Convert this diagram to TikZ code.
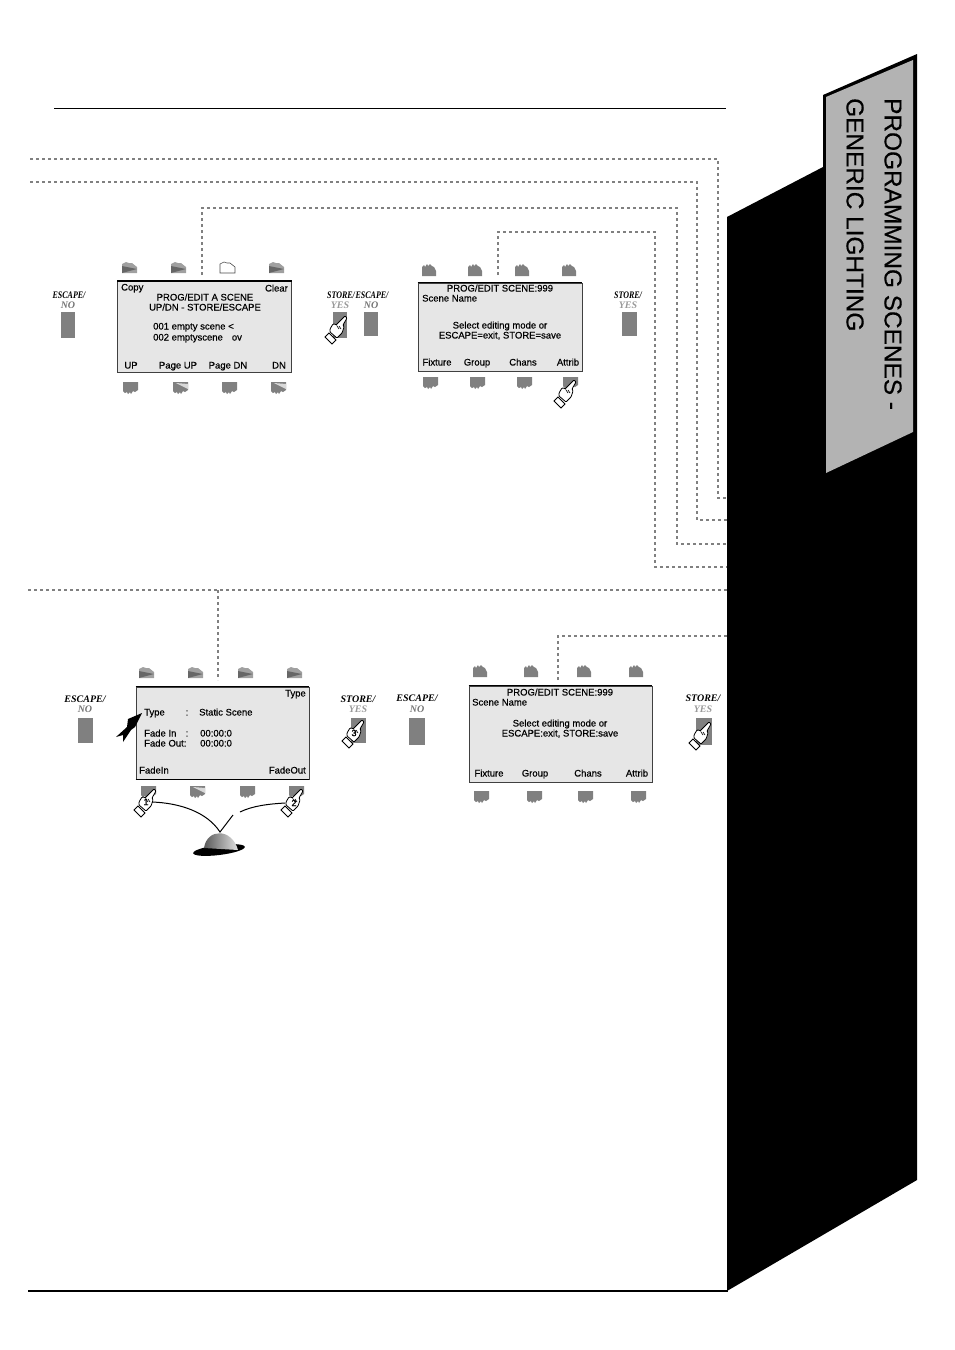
\documentclass[tikz,border=0pt]{standalone}
\usepackage{fontspec}
\setmainfont{Liberation Sans}
\newfontfamily\lcdfont[FakeBold=0.4]{Liberation Sans}
\newfontfamily\keyfont{Liberation Serif}
\newfontfamily\keynarrow[FakeStretch=0.8]{Liberation Serif}
\definecolor{keygray}{HTML}{808080}
\definecolor{lcdgray}{HTML}{E6E6E6}
\definecolor{tabgray}{HTML}{B3B3B3}
\tikzset{
	dots/.style={draw=keygray,line width=2.4pt,dash pattern=on 2.6pt off 3.4pt},
	screen/.style={draw=black!75,fill=lcdgray,line width=.8pt,inner sep=0pt},
	lcd/.style={font=\lcdfont\fontsize{9.5}{10}\selectfont,inner sep=0pt,text height=7pt,text depth=2pt},
	sidekey/.style={fill=keygray,inner sep=0pt,minimum width=14.5pt,minimum height=25.5pt},
	keyname/.style={font=\keyfont\bfseries\itshape\fontsize{10}{10}\selectfont,inner sep=0pt},
	keyslim/.style={font=\keynarrow\bfseries\itshape\fontsize{10}{10}\selectfont,inner sep=0pt},
	noname/.style={keyname,text=black!55},
	yesname/.style={keyname,text=black!40},
	handnum/.style={font=\lcdfont\fontsize{9}{9}\selectfont,inner sep=0pt},
	keyflag/.pic={
		\fill[keygray!75](0,2)--(4,0)--(7,1)--(10,1)--(15,5)--(15,11)--(0,11)--cycle;
		\fill[black!60](0,4)--(15,7)--(0,11)--cycle;
	},
	keyopen/.pic={
		\draw[black!70,fill=white,line width=.6pt](0,2)--(4,0)--(7,1)--(10,1)--(15,5)--(15,11)--(0,11)--cycle;
	},
	keycrown/.pic={
		\fill[keygray](0,3)--(2,1)--(3,3)--(5,0)--(6,2)--(8,0)--(10,2)--(12,3)--(14,7)--(14,12)--(0,12)--cycle;
	},
	keydrip/.pic={
		\fill[keygray](0,0)--(15,0)--(15,8)--(12,10)--(10,9)--(8,12)--(7,10)--(5,12)--(4,10)--(2,11)--(0,9)--cycle;
	},
	keytick/.pic={
		\fill[keygray](0,0)--(15,0)--(15,8)--(12,10)--(10,9)--(8,12)--(7,10)--(5,12)--(4,10)--(2,11)--(0,9)--cycle;
		\fill[white!85!black](3,1)--(15,2)--(15,7)--cycle;
	},
	pointhand/.pic={
		\draw[fill=white,line width=.8pt,rounded corners=.8pt](-1,-1)--(1,1)--(-3,8)--(-2,10)--(-3,13)--(-4,16)
			--(-9,21)--(-16,15)--(-16,12)--(-13,7)--(-11,7)--(-10,8)--(-7,5)--cycle;
		\draw[fill=white,line width=.8pt](-10,23)--(-14,27)--(-21,20)--(-17,16)--cycle;
		\draw[line width=.6pt](-9,9)--(-7,12)(-7,9)--(-5,12);
	},
}
\begin{document}
\begin{tikzpicture}[x=1pt,y=-1pt]
	\useasboundingbox(0,0)rectangle(954,1350);
	% dotted routes
	\coordinate(r1a)at(30,159);\coordinate(r1b)at(718,159);\coordinate(r1c)at(718,498);\coordinate(r1d)at(728,498);
	\coordinate(r2a)at(30,182);\coordinate(r2b)at(697,182);\coordinate(r2c)at(697,520);\coordinate(r2d)at(728,520);
	\coordinate(r3a)at(202,275);\coordinate(r3b)at(202,208);\coordinate(r3c)at(677,208);\coordinate(r3d)at(677,544);\coordinate(r3e)at(728,544);
	\coordinate(r4a)at(498,275);\coordinate(r4b)at(498,232);\coordinate(r4c)at(655,232);\coordinate(r4d)at(655,567);\coordinate(r4e)at(728,567);
	\coordinate(r5a)at(28,590);\coordinate(r5b)at(728,590);\coordinate(r5c)at(218,590);\coordinate(r5d)at(218,680);
	\coordinate(r6a)at(558,680);\coordinate(r6b)at(558,636);\coordinate(r6c)at(728,636);
	\draw[dots](r1a)--(r1b)--(r1c)--(r1d);
	\draw[dots](r2a)--(r2b)--(r2c)--(r2d);
	\draw[dots](r3a)--(r3b)--(r3c)--(r3d)--(r3e);
	\draw[dots](r4a)--(r4b)--(r4c)--(r4d)--(r4e);
	\draw[dots](r5a)--(r5b)(r5c)--(r5d);
	\draw[dots](r6a)--(r6b)--(r6c);
	% rules
	\coordinate(ruletopl)at(54,108);\coordinate(ruletopr)at(726,108);
	\coordinate(rulebotl)at(28,1290.5);\coordinate(rulebotr)at(728,1290.5);
	\draw[line width=1pt](ruletopl)--(ruletopr);
	\draw[line width=2pt](rulebotl)--(rulebotr);
	% page edge and tab
	\fill(727,217)--(823,167)--(823,95)--(917,54)--(917,1180)--(727,1291)--cycle;
	\fill[tabgray](826,97)--(913,60)--(913,432)--(826,473)--cycle;
	\node[rotate=-90,anchor=west,inner sep=0pt,font=\lcdfont\fontsize{24.4}{24}\selectfont](tabone)at(893,98){PROGRAMMING SCENES -};
	\node[rotate=-90,anchor=west,inner sep=0pt,font=\lcdfont\fontsize{24.4}{24}\selectfont](tabtwo)at(855,98){GENERIC LIGHTING};

	% first row, scene list
	\foreach\x in{122,171,269}\pic at(\x,262){keyflag};
	\pic at(220,262){keyopen};
	\foreach\x in{123,222}\pic at(\x,382){keydrip};
	\foreach\x in{173,271}\pic at(\x,382){keytick};
	\node[screen,minimum width=174pt,minimum height=91pt](lista)at(204.5,327){};
	\draw[line width=1.5pt](lista.north west)--(lista.north east);
	\node[lcd,anchor=west](listcopy)at(121,288){Copy};
	\node[lcd,anchor=east](listclear)at(288,289){Clear};
	\node[lcd](listhead)at(205,298){PROG/EDIT A SCENE};
	\node[lcd](listsub)at(205,308){UP/DN - STORE/ESCAPE};
	\node[lcd,anchor=west](listone)at(153,327){001 empty scene <};
	\node[lcd,anchor=west](listtwo)at(153,338){002 emptyscene\hspace{9pt}ov};
	\node[lcd](listup)at(131,366){UP};
	\node[lcd](listpup)at(178,366){Page UP};
	\node[lcd](listpdn)at(228,366){Page DN};
	\node[lcd](listdn)at(279,366){DN};
	\node[sidekey](esca)at(68,325){};
	\node[keyslim](escaname)at(69,295){ESCAPE/};
	\node[noname](escano)at(68,305){NO};
	\node[sidekey](stoa)at(340,325){};
	\node[keyslim](stoaname)at(341,295){STORE/};
	\node[yesname](stoayes)at(340,305){YES};
	\pic at(346,317){pointhand};

	% first row, edit mode
	\foreach\x in{422,468,515,562}\pic at(\x,264){keycrown};
	\foreach\x in{423,470,517,563}\pic at(\x,377){keydrip};
	\node[screen,minimum width=164pt,minimum height=88pt](edita)at(500,327){};
	\draw[line width=1.5pt](edita.north west)--(edita.north east);
	\node[lcd](edithead)at(500,289){PROG/EDIT SCENE:999};
	\node[lcd,anchor=west](editname)at(422,299){Scene Name};
	\node[lcd](editsel)at(500,326){Select editing mode or};
	\node[lcd](editesc)at(500,336){ESCAPE=exit, STORE=save};
	\node[lcd](editfix)at(437,363){Fixture};
	\node[lcd](editgrp)at(477,363){Group};
	\node[lcd](editchn)at(523,363){Chans};
	\node[lcd](editatt)at(568,363){Attrib};
	\node[fill=white,inner sep=1pt,keyslim](escbname)at(372,295){ESCAPE/};
	\node[noname](escbno)at(371,305){NO};
	\node[sidekey,minimum height=24pt](escb)at(371,324){};
	\node[keyslim](stobname)at(628,295){STORE/};
	\node[yesname](stobyes)at(628,305){YES};
	\node[sidekey,minimum height=24pt](stob)at(629.5,324){};
	\pic at(575,381){pointhand};

	% second row, timing page
	\foreach\x in{139,188,238,287}\pic at(\x,667){keyflag};
	\pic at(141,786){keydrip};
	\pic at(190,786){keytick};
	\pic at(240,786){keydrip};
	\pic at(289,786){keydrip};
	\node[screen,minimum width=173pt,minimum height=92pt](timea)at(222.5,733){};
	\draw[line width=1.5pt](timea.north west)--(timea.north east);
	\draw[line width=1.5pt](timea.south west)--(timea.south east);
	\node[lcd,anchor=east](timetype)at(306,694){Type};
	\node[lcd,anchor=west](timelab)at(144,713){Type};
	\node[lcd](timecola)at(187,713){:};
	\node[lcd,anchor=west](timeval)at(199,713){Static Scene};
	\node[lcd,anchor=west](timein)at(144,734){Fade In};
	\node[lcd](timecolb)at(187,734){:};
	\node[lcd,anchor=west](timeinv)at(200,734){00:00:0};
	\node[lcd,anchor=west](timeout)at(144,744){Fade Out:};
	\node[lcd,anchor=west](timeoutv)at(200,744){00:00:0};
	\node[lcd,anchor=west](timefin)at(139,771){FadeIn};
	\node[lcd,anchor=east](timefout)at(306,771){FadeOut};
	\fill(142,713)--(128,719)--(127,727)--(116,737)--(123,735)--(123,742)--(131,730)--(135,727)--cycle;
	\node[sidekey](escc)at(85.5,730.5){};
	\node[keyname](esccname)at(85,699){ESCAPE/};
	\node[noname](esccno)at(85,709){NO};
	\node[sidekey](stoc)at(358.5,730.5){};
	\node[keyname](stocname)at(358,699){STORE/};
	\node[yesname](stocyes)at(358,709){YES};
	\pic at(155,790){pointhand};
	\pic at(302,790){pointhand};
	\pic at(363,721){pointhand};
	\node[handnum](numa)at(146,802){1};
	\node[handnum](numb)at(294,803){2};
	\node[handnum](numc)at(354,733){3};
	% wheel and its two strokes
	\fill[rotate around={7:(219,850)}](219,850)ellipse[x radius=26,y radius=5];
	\shade[left color=black!65,right color=black!12](204,848)..controls(207,828)and(232,828)..(238,850)--cycle;
	\coordinate(wheelv)at(220,832);
	\coordinate(wheelr)at(233,815);
	\coordinate(strokeal)at(152,802);
	\coordinate(strokebl)at(240,812);
	\coordinate(strokebr)at(285,803);
	\draw[line width=1pt](strokeal)..controls(180,803)and(207,812)..(wheelv)--(wheelr);
	\draw[line width=1pt](strokebl)..controls(252,806)and(268,804)..(strokebr);

	% second row, edit mode
	\foreach\x in{473,524,577,629}\pic at(\x,665){keycrown};
	\foreach\x in{474,527,578,631}\pic at(\x,791){keydrip};
	\node[screen,minimum width=183pt,minimum height=96pt](editb)at(560.5,734){};
	\draw[line width=1.5pt](editb.north west)--(editb.north east);
	\node[lcd](editbhead)at(560,693){PROG/EDIT SCENE:999};
	\node[lcd,anchor=west](editbname)at(472,703){Scene Name};
	\node[lcd](editbsel)at(560,724){Select editing mode or};
	\node[lcd](editbesc)at(560,734){ESCAPE:exit, STORE:save};
	\node[lcd](editbfix)at(489,774){Fixture};
	\node[lcd](editbgrp)at(535,774){Group};
	\node[lcd](editbchn)at(588,774){Chans};
	\node[lcd](editbatt)at(637,774){Attrib};
	\node[sidekey,minimum width=16pt,minimum height=27pt](escd)at(417,731.5){};
	\node[keyname](escdname)at(417,698){ESCAPE/};
	\node[noname](escdno)at(417,709){NO};
	\node[sidekey,minimum width=16pt,minimum height=27pt](stod)at(704,731.5){};
	\node[keyname](stodname)at(703,698){STORE/};
	\node[yesname](stodyes)at(703,709){YES};
	\pic at(710,723){pointhand};
\end{tikzpicture}
\end{document}
